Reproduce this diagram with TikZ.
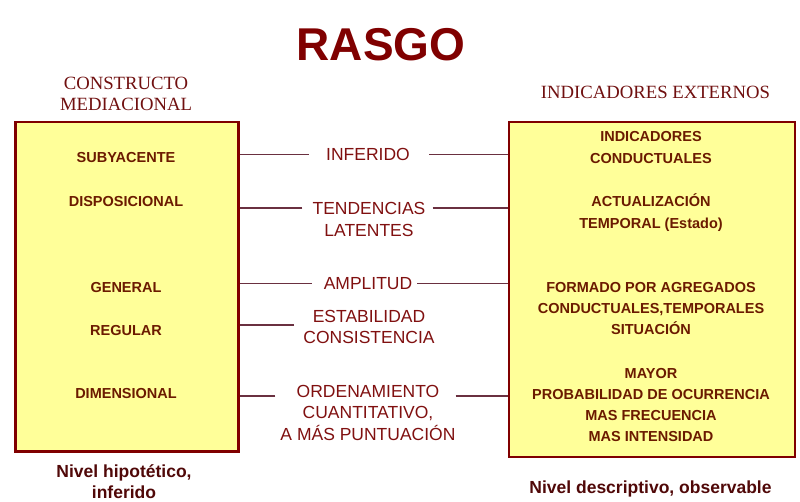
\documentclass[tikz,border=0pt]{standalone}
\usepackage{fontspec}
\setmainfont{Liberation Serif}
\newfontfamily\sansf{Liberation Sans}
\definecolor{boxred}{HTML}{800000}
\definecolor{boxfill}{HTML}{FFFF99}
\definecolor{itemred}{HTML}{6B1A00}
\definecolor{tagred}{HTML}{801010}
\definecolor{linkred}{HTML}{6A3040}
\definecolor{headred}{HTML}{701010}
\definecolor{footred}{HTML}{500808}
\tikzset{
  panel/.style={draw=boxred, fill=boxfill, line width=2.6pt, inner sep=0pt},
  item/.style={font={\sansf\bfseries\fontsize{14.5}{21.3}\selectfont}, text=itemred, align=center, inner sep=0pt},
  tag/.style={font={\sansf\fontsize{17.5}{21.6}\selectfont}, text=tagred, align=center, inner sep=0pt},
  head/.style={font={\fontsize{18.7}{21}\selectfont}, text=headred, align=center, inner sep=0pt},
  foot/.style={font={\sansf\bfseries\fontsize{17.5}{21}\selectfont}, text=footred, align=center, inner sep=0pt},
  link/.style={draw=linkred, line width=1.5pt}
}
\begin{document}
\begin{tikzpicture}[x=1pt,y=-1pt]%
     \useasboundingbox (0,0) rectangle (800,501);
     \node [font={\sansf\bfseries\fontsize{46}{46}\selectfont}, text=boxred, inner sep=0pt] at (381,45) (title) {RASGO};

     \node [head] at (126,94) (lhead) {CONSTRUCTO\\MEDIACIONAL};
     \node [head] at (655.5,92.5) (rhead) {INDICADORES EXTERNOS};

     \node [panel, minimum width=223pt, minimum height=329.5pt] at (127,286.75) (lbox) {};
     \node [panel, minimum width=286pt, minimum height=335pt] at (652,289.5) (rbox) {};

     \node [item] at (126,158) (sub) {SUBYACENTE};
     \node [item] at (126,201.5) (dis) {DISPOSICIONAL};
     \node [item] at (126,287.5) (gen) {GENERAL};
     \node [item] at (126,330.5) (reg) {REGULAR};
     \node [item] at (126,394) (dim) {DIMENSIONAL};

     \node [item] at (651,147.5) (ind) {INDICADORES\\CONDUCTUALES};
     \node [item] at (651,212.5) (act) {ACTUALIZACIÓN\\TEMPORAL (Estado)};
     \node [item] at (651,308.5) (agr) {FORMADO POR AGREGADOS\\CONDUCTUALES,TEMPORALES\\SITUACIÓN};
     \node [item] at (651,405) (may) {MAYOR\\PROBABILIDAD DE OCURRENCIA\\MAS FRECUENCIA\\MAS INTENSIDAD};

     \node [tag] at (368,154.5) (inf) {INFERIDO};
     \node [tag] at (369,219.5) (ten) {TENDENCIAS\\LATENTES};
     \node [tag] at (368,283.5) (amp) {AMPLITUD};
     \node [tag] at (369,327) (est) {ESTABILIDAD\\CONSISTENCIA};
     \node [tag] at (368,412.75) (ord) {ORDENAMIENTO\\CUANTITATIVO,\\A MÁS PUNTUACIÓN};

     \draw [link, shorten <=17pt] (inf.west) -- (inf.west -| lbox.east);
     \draw [link, shorten <=19pt] (inf.east) -- (inf.east -| rbox.west);
     \draw [link, shorten <=10pt] ([yshift=11.5pt]ten.west) -- ([yshift=11.5pt]ten.west -| lbox.east);
     \draw [link, shorten <=7pt] ([yshift=11.5pt]ten.east) -- ([yshift=11.5pt]ten.east -| rbox.west);
     \draw [link, shorten <=12pt] (amp.west) -- (amp.west -| lbox.east);
     \draw [link, shorten <=5pt] (amp.east) -- (amp.east -| rbox.west);
     \draw [link, shorten <=9pt] ([yshift=2pt]est.west) -- ([yshift=2pt]est.west -| lbox.east);
     \draw [link, shorten <=5pt] ([yshift=16.75pt]ord.west) -- ([yshift=16.75pt]ord.west -| lbox.east);
     \draw [link] ([yshift=16.75pt]ord.east) -- ([yshift=16.75pt]ord.east -| rbox.west);

     \node [foot, anchor=north] at (124,464) (lfoot) {Nivel hipotético,\\inferido};
     \node [foot, anchor=base] at (650.5,493) (rfoot) {Nivel descriptivo, observable};
\end{tikzpicture}
\end{document}
